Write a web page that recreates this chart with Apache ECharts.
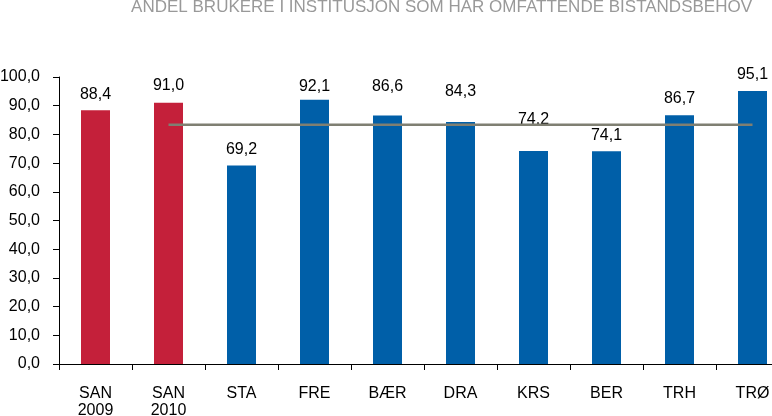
<!DOCTYPE html>
<html>
<head>
<meta charset="utf-8">
<script src="https://cdn.jsdelivr.net/npm/echarts@6/dist/echarts.min.js"></script>
<style>
html,body{margin:0;padding:0;overflow:hidden;background:#fff;width:772px;height:416px;}
#c{width:789px;height:416px;}
</style>
</head>
<body>
<div id="c"></div>
<script>
const titleText = 'ANDEL BRUKERE I INSTITUSJON SOM HAR OMFATTENDE BISTANDSBEHOV';
const categories = ['SAN\n2009', 'SAN\n2010', 'STA', 'FRE', 'BÆR', 'DRA', 'KRS', 'BER', 'TRH', 'TRØ'];
const values = [88.4, 91.0, 69.2, 92.1, 86.6, 84.3, 74.2, 74.1, 86.7, 95.1];
const highlighted = [true, true, false, false, false, false, false, false, false, false];
const averageLine = [null, 83.4, 83.4, 83.4, 83.4, 83.4, 83.4, 83.4, 83.4, 83.4];
const yTicks = [0, 10, 20, 30, 40, 50, 60, 70, 80, 90, 100];

// label gap above bar (style)
const labelGap = [8, 9, 8, 5, 21, 22, 23, 8, 9, 8];

const fmt = v => v.toFixed(1).replace('.', ',');
const FONT = 'Liberation Sans, Arial, sans-serif';

const chart = echarts.init(document.getElementById('c'), null, {renderer: 'canvas'});
chart.setOption({
  animation: false,
  backgroundColor: '#ffffff',
  title: {
    text: titleText,
    right: 32,
    top: -6,
    textStyle: {fontFamily: FONT, fontSize: 17, fontWeight: 'normal', color: '#999999'}
  },
  grid: {left: 59, right: 0, top: 77, bottom: 52, outerBoundsMode: 'none', containLabel: false},
  xAxis: {
    type: 'category',
    data: categories,
    boundaryGap: true,
    axisLine: {lineStyle: {color: '#000', width: 1}},
    axisTick: {show: true, length: 6, lineStyle: {color: '#000'}},
    axisLabel: {color: '#000', fontFamily: FONT, fontSize: 16, margin: 21, lineHeight: 17, interval: 0}
  },
  yAxis: {
    type: 'value',
    min: yTicks[0],
    max: yTicks[yTicks.length - 1],
    interval: 10,
    axisLine: {show: true, lineStyle: {color: '#000', width: 1}},
    axisTick: {show: true, length: 6, lineStyle: {color: '#000'}},
    splitLine: {show: false},
    axisLabel: {color: '#000', fontFamily: FONT, fontSize: 16, margin: 19, formatter: fmt}
  },
  series: [
    {
      type: 'bar',
      barWidth: 29,
      data: values.map((v, i) => ({
        value: v,
        itemStyle: {color: highlighted[i] ? '#C4203A' : '#005FA8'},
        label: {distance: labelGap[i]}
      })),
      label: {
        show: true,
        position: 'top',
        color: '#000',
        fontFamily: FONT,
        fontSize: 16,
        formatter: p => fmt(p.value)
      },
      z: 2
    },
    {
      type: 'line',
      data: averageLine,
      symbol: 'none',
      lineStyle: {color: '#7F7F72', width: 2.5},
      z: 3
    }
  ]
});
</script>
</body>
</html>
